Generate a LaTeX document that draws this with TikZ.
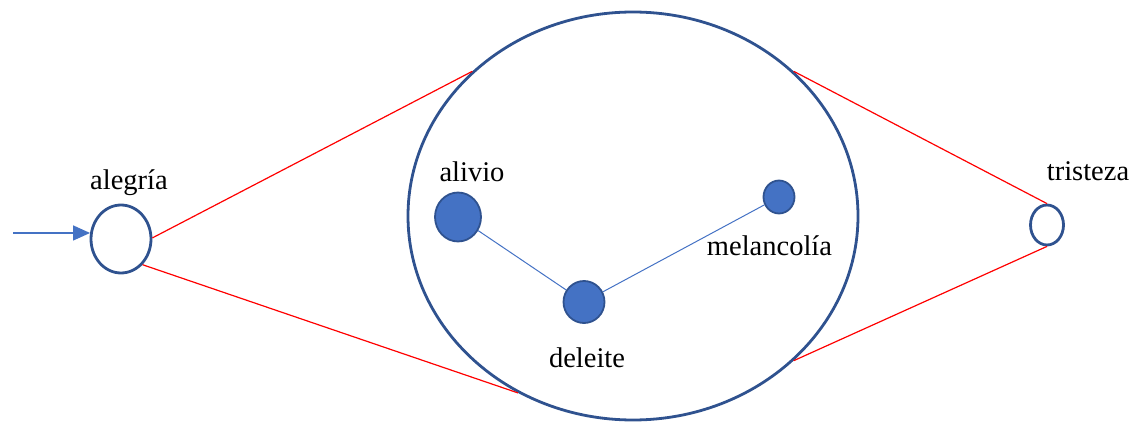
\documentclass[tikz,border=0pt]{standalone}
\usepackage{fontspec}
\setmainfont{Liberation Serif}
\usetikzlibrary{arrows.meta,positioning,shapes.geometric}
\definecolor{moodblue}{HTML}{4472c4}
\definecolor{rimblue}{HTML}{2f528f}

\begin{document}
\begin{tikzpicture}[
  x=1pt, y=-1pt, font=\fontsize{28.5}{34}\selectfont,
  ring/.style={ellipse, draw=rimblue, line width=2.8pt, inner sep=0pt},
  dot/.style={ellipse, fill=moodblue, draw=rimblue, line width=1.8pt, inner sep=0pt},
  lab/.style={anchor=base, inner sep=0pt},
  tie/.style={draw=moodblue, line width=1pt},
  ray/.style={draw=red, line width=1.2pt}]
\useasboundingbox (0,0) rectangle (1135,422);
\node[ring, minimum width=450pt, minimum height=408pt] (mood) at (633,216) {};
\node[ring, minimum width=60pt, minimum height=68pt] (joy) at (121,239) {};
\node[ring, minimum width=33pt, minimum height=40pt] (sad) at (1047,225) {};
\node[dot, minimum width=46pt, minimum height=49pt] (relief) at (458,217) {};
\node[dot, minimum width=41pt, minimum height=42pt] (delight) at (584,302) {};
\node[dot, minimum width=31pt, minimum height=33pt] (gloom) at (779,197) {};
\node[lab] (joylab) at (129,190) {alegría};
\node[lab] (relieflab) at (472,182) {alivio};
\node[lab] (gloomlab) at (769.5,255) {melancolía};
\node[lab] (delightlab) at (587,367) {deleite};
\node[lab] (sadlab) at (1088,181) {tristeza};
% entry arrow
\coordinate[left=77pt of joy.169] (entry);
\draw[tie, line width=1.4pt, -{Triangle[length=17pt, width=15pt]}] (entry) -- (joy.169);
% red rays to the big ring
\draw[ray] (joy.2) -- (mood.138);
\draw[ray] (joy.-50) -- (mood.237);
\draw[ray] (mood.42) -- (sad.north);
\draw[ray] (mood.318) -- (sad.south);
% inner links
\draw[tie] (relief) -- (delight);
\draw[tie] (delight) -- (gloom);
\end{tikzpicture}
\end{document}
